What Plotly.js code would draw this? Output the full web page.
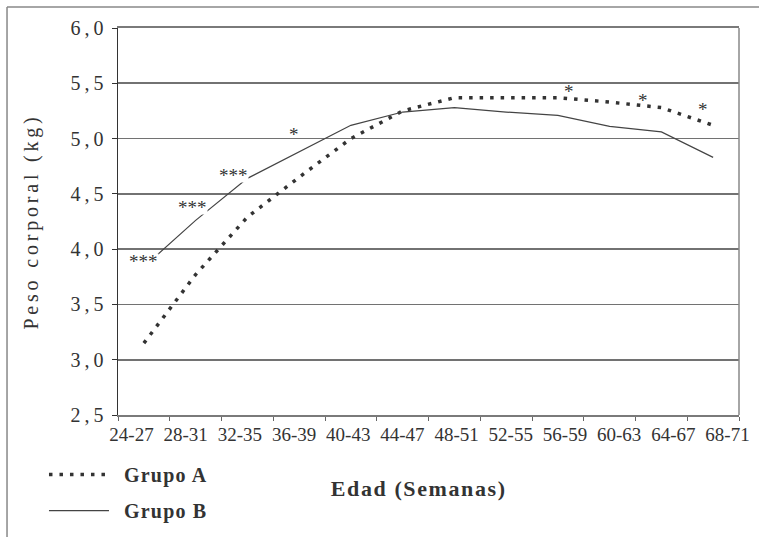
<!DOCTYPE html>
<html><head><meta charset="utf-8">
<script src="https://cdn.plot.ly/plotly-3.0.1.min.js"></script>
<style>
html,body{margin:0;padding:0;background:#fff;}
#chart{width:759px;height:537px;}
.ytick text{letter-spacing:4px;}
.ytitle{letter-spacing:3.8px;}
.legendtext{letter-spacing:1.2px;transform:translateX(10px);}
.legend .scrollbox{clip-path:none !important;}
.annotation[data-index="0"] text{letter-spacing:1.6px;}
</style></head><body><div id="chart"></div>
<script>
// Data
const ageGroups = ['24-27','28-31','32-35','36-39','40-43','44-47','48-51','52-55','56-59','60-63','64-67','68-71'];
const grupoA = [3.15, 3.77, 4.29, 4.65, 5.00, 5.25, 5.37, 5.37, 5.37, 5.33, 5.28, 5.12];
const grupoB = [3.84, 4.26, 4.64, 4.88, 5.12, 5.24, 5.28, 5.24, 5.21, 5.11, 5.06, 4.83];
const sigA = ['', '', '', '', '', '', '', '', '*', '', '*', '*'];
const sigB = ['***', '***', '***', '*', '', '', '', '', '', '', '', ''];
const seriesNames = ['Grupo A', 'Grupo B'];
const yTitle = 'Peso corporal (kg)';
const xTitle = 'Edad (Semanas)';

// Label placement (pixel offsets from their point) — styling only
const offA = {8: [11, 6], 10: [-18, 7], 11: [-10, 16]};
const offB = {0: [0, 6], 1: [-3, 13], 2: [-14, 3], 3: [-5, 18]};

const serif = 'Liberation Serif, Times New Roman, serif';
const ink = '#333333';

const traces = [
  {x: ageGroups, y: grupoA, name: seriesNames[0], type: 'scatter', mode: 'lines',
   legendgroup: 'a', line: {color: '#333', width: 3.5, dash: '3.5px,7px'}},
  {x: ageGroups, y: grupoB, name: seriesNames[1], type: 'scatter', mode: 'lines',
   legendgroup: 'b', line: {color: '#444', width: 1.2}},
  // carrier for the (typeset, slightly wider-spaced) age tick labels axis
  {x: ageGroups.map((_, i) => i), y: grupoA, xaxis: 'x2', yaxis: 'y', type: 'scatter',
   mode: 'none', showlegend: false, hoverinfo: 'skip'}
];

const annotations = [{
  text: xTitle, xref: 'paper', yref: 'paper', x: 0.4831, y: -0.1912,
  xanchor: 'center', yanchor: 'middle', showarrow: false,
  font: {family: serif, size: 22, color: ink, weight: 'bold'}
}];
sigB.forEach((s, i) => { if (s) annotations.push({
  x: ageGroups[i], y: grupoB[i], xref: 'x', yref: 'y', text: s, showarrow: false,
  xshift: offB[i][0], yshift: offB[i][1],
  bgcolor: s.length > 1 ? '#fff' : 'rgba(0,0,0,0)', borderpad: 0, height: 14,
  font: {family: serif, size: 19, color: ink}
}); });
sigA.forEach((s, i) => { if (s) annotations.push({
  x: ageGroups[i], y: grupoA[i], xref: 'x', yref: 'y', text: s, showarrow: false,
  xshift: offA[i][0], yshift: offA[i][1], borderpad: 0,
  font: {family: serif, size: 19, color: ink}
}); });

const layout = {
  width: 759, height: 537,
  margin: {l: 118, r: 20, t: 28, b: 122, autoexpand: false},
  paper_bgcolor: '#fff', plot_bgcolor: '#fff',
  separators: ',.',
  font: {family: serif, color: ink},
  showlegend: true,
  legend: {orientation: 'v', x: -0.1192, y: -0.1035, xanchor: 'left', yanchor: 'top',
    bgcolor: 'rgba(0,0,0,0)', itemwidth: 60, tracegroupgap: 7, traceorder: 'grouped',
    font: {family: serif, size: 20, color: ink, weight: 'bold'}},
  xaxis: {type: 'category', categoryarray: ageGroups, range: [-0.5, 11.5],
    showticklabels: false, ticks: 'outside', tickson: 'boundaries', ticklen: 4,
    tickcolor: '#666', showgrid: false, showline: true, linecolor: '#7a7a7a',
    linewidth: 2, mirror: true, zeroline: false, fixedrange: true},
  xaxis2: {overlaying: 'x', anchor: 'y', side: 'bottom', type: 'linear',
    range: [-0.2492, 11.2122], tickmode: 'array',
    tickvals: ageGroups.map((_, i) => i), ticktext: ageGroups,
    showgrid: false, showline: false, zeroline: false, ticks: '',
    ticklabelstandoff: 6,
    tickfont: {family: serif, size: 19, color: ink}},
  yaxis: {range: [2.5, 6.0], dtick: 0.5, tick0: 2.5, tickformat: '.1f',
    showgrid: true, gridcolor: '#727272', gridwidth: 1.8,
    showline: true, linecolor: '#333', linewidth: 1.5, zeroline: false,
    ticks: 'outside', ticklen: 5, tickcolor: '#333',
    tickfont: {family: serif, size: 20, color: ink},
    title: {text: yTitle, standoff: 26, font: {family: serif, size: 20, color: ink}}},
  shapes: [
    {type: 'line', xref: 'paper', yref: 'paper', x0: 1, x1: 1, y0: 0, y1: 1,
     line: {color: '#888', width: 1.5}},
    {type: 'line', xref: 'paper', yref: 'paper', x0: -0.1787, x1: 1.1, y0: 1.0543, y1: 1.0543,
     line: {color: '#888', width: 1.5}},
    {type: 'line', xref: 'paper', yref: 'paper', x0: -0.1787, x1: -0.1787, y0: 1.0543, y1: -0.4,
     line: {color: '#888', width: 1.5}}
  ],
  annotations: annotations
};

Plotly.newPlot('chart', traces, layout, {displayModeBar: false, staticPlot: true});
</script></body></html>
